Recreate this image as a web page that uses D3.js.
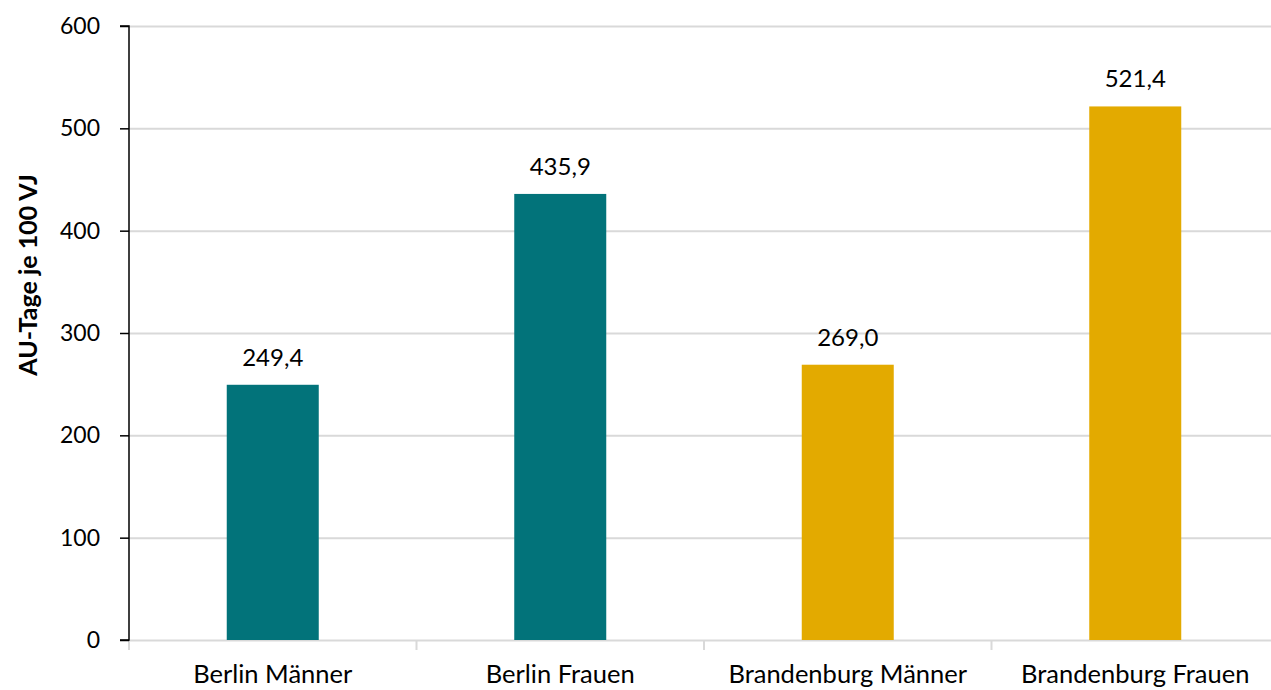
<!DOCTYPE html>
<html>
<head>
<meta charset="utf-8">
<script src="https://cdn.jsdelivr.net/npm/d3@7"></script>
<style>
  html, body { margin: 0; padding: 0; background: #fff; }
  svg { display: block; font-family: Lato, "Open Sans", sans-serif; }
</style>
</head>
<body>
<svg id="chart" width="1271" height="690"></svg>
<script>
// AU-Tage je 100 Versicherungsjahre nach Region und Geschlecht
const categories = ["Berlin Männer", "Berlin Frauen", "Brandenburg Männer", "Brandenburg Frauen"];
const values = [249.4, 435.9, 269.0, 521.4];
const regions = ["Berlin", "Berlin", "Brandenburg", "Brandenburg"];
const yTicks = [0, 100, 200, 300, 400, 500, 600];
const regionColors = { Berlin: "#02737A", Brandenburg: "#E3AA00" };

const svg = d3.select("#chart");
const margin = { left: 129, right: -8, top: 26, bottom: 50 };
const W = 1271, H = 690;

const x = d3.scaleBand()
  .domain(categories)
  .range([margin.left, W - margin.right])
  .paddingInner(0.68)
  .paddingOuter(0.34);

const y = d3.scaleLinear()
  .domain([0, 600])
  .range([H - margin.bottom, margin.top]);

const fmt = v => d3.format(".1f")(v).replace(".", ",");

// horizontal gridlines
svg.append("g")
  .selectAll("line")
  .data(yTicks)
  .join("line")
  .attr("x1", margin.left)
  .attr("x2", W)
  .attr("y1", d => y(d) + 0.5)
  .attr("y2", d => y(d) + 0.5)
  .attr("stroke", "#d9d9d9")
  .attr("stroke-width", 2);

// bars
svg.append("g")
  .selectAll("rect")
  .data(categories)
  .join("rect")
  .attr("x", d => x(d))
  .attr("width", x.bandwidth())
  .attr("y", (d, i) => y(values[i]))
  .attr("height", (d, i) => y(0) - y(values[i]))
  .attr("fill", (d, i) => regionColors[regions[i]]);

// value labels
svg.append("g")
  .selectAll("text")
  .data(categories)
  .join("text")
  .attr("x", d => x(d) + x.bandwidth() / 2)
  .attr("y", (d, i) => y(values[i]) - 19)
  .attr("text-anchor", "middle")
  .attr("font-size", 24)
  .attr("fill", "#000")
  .text((d, i) => fmt(values[i]));

// x axis: category separators
const step = x.step();
const xBounds = d3.range(categories.length + 1).map(i => margin.left + i * step);
svg.append("g")
  .selectAll("line")
  .data(xBounds)
  .join("line")
  .attr("x1", d => d)
  .attr("x2", d => d)
  .attr("y1", y(0))
  .attr("y2", y(0) + 10)
  .attr("stroke", "#d9d9d9")
  .attr("stroke-width", 2);

svg.append("g")
  .selectAll("text")
  .data(categories)
  .join("text")
  .attr("x", d => x(d) + x.bandwidth() / 2)
  .attr("y", y(0) + 43)
  .attr("text-anchor", "middle")
  .attr("font-size", 25.5)
  .attr("fill", "#000")
  .text(d => d);

// y axis
const yAxis = d3.axisLeft(y)
  .tickValues(yTicks)
  .tickSize(9)
  .tickPadding(20)
  .tickFormat(d3.format("d"));

const gy = svg.append("g")
  .attr("transform", `translate(${margin.left},0)`)
  .call(yAxis);
gy.select(".domain").attr("stroke", "#000").attr("stroke-width", 1.5)
  .attr("d", `M-9,${y(600)}H0V${y(0)}H-9`);
gy.selectAll(".tick line").attr("stroke", "#000").attr("stroke-width", 1.5);
gy.selectAll(".tick text")
  .attr("font-size", 23)
  .attr("font-family", "Lato, 'Open Sans', sans-serif")
  .attr("fill", "#000");

// y axis title
svg.append("text")
  .attr("transform", `translate(37, 275) rotate(-90)`)
  .attr("text-anchor", "middle")
  .attr("font-size", 25)
  .attr("font-weight", "bold")
  .attr("fill", "#000")
  .text("AU-Tage je 100 VJ");
</script>
</body>
</html>
